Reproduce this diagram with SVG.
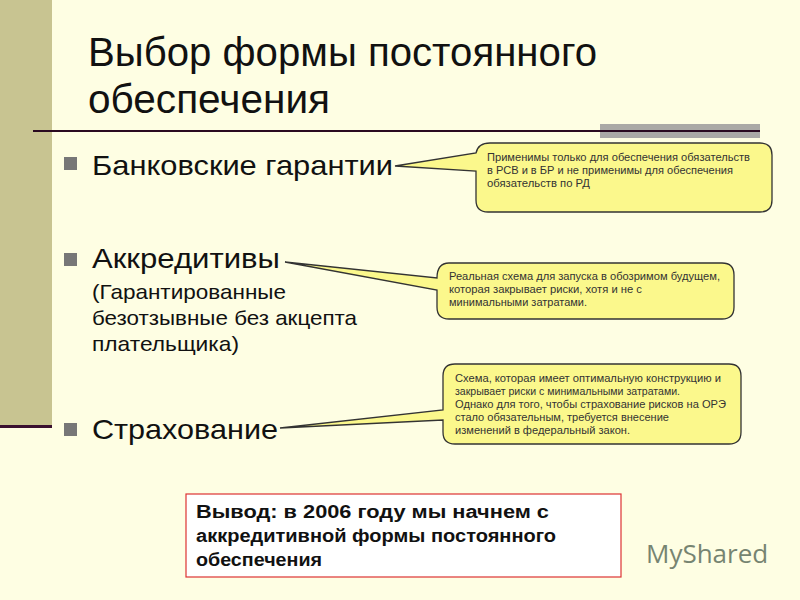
<svg xmlns="http://www.w3.org/2000/svg" width="800" height="600" viewBox="0 0 800 600">
<style>
.c{fill:#fbf88c;stroke:#333;stroke-width:1.3}
.s{font-family:"Liberation Sans",Arial,sans-serif;font-size:10.5px;fill:#333}
.b{font-family:"Liberation Sans",Arial,sans-serif;fill:#111}
</style>
<rect width="800" height="600" fill="#fefee3"/>
<rect x="0" y="0" width="52" height="425" fill="#c8c491"/>
<rect x="0" y="425" width="52" height="3" fill="#3a1030"/>
<text class="b" x="88" y="66" font-size="40" fill="#2a0a20" textLength="509" lengthAdjust="spacingAndGlyphs">Выбор формы постоянного</text>
<text class="b" x="88" y="113" font-size="40" fill="#2a0a20" textLength="242" lengthAdjust="spacingAndGlyphs">обеспечения</text>
<rect x="600" y="124" width="160" height="14" fill="#aaa9a6"/>
<rect x="33" y="130" width="727" height="2" fill="#2a0a20"/>
<g id="bullets" fill="#777">
<rect x="64" y="157" width="13" height="13"/>
<rect x="64" y="253" width="13" height="13"/>
<rect x="64" y="423" width="13" height="13"/>
</g>
<text class="b" x="92" y="175" font-size="28" textLength="301" lengthAdjust="spacingAndGlyphs">Банковские гарантии</text>
<text class="b" x="92" y="268" font-size="28" textLength="188" lengthAdjust="spacingAndGlyphs">Аккредитивы</text>
<text class="b" x="92" y="299" font-size="21" textLength="194" lengthAdjust="spacingAndGlyphs">(Гарантированные</text>
<text class="b" x="92" y="325" font-size="21" textLength="265" lengthAdjust="spacingAndGlyphs">безотзывные без акцепта</text>
<text class="b" x="92" y="351" font-size="21" textLength="147" lengthAdjust="spacingAndGlyphs">плательщика)</text>
<text class="b" x="92" y="439" font-size="28" textLength="186" lengthAdjust="spacingAndGlyphs">Страхование</text>
<g id="callout1">
<path class="c" d="M490,143 H760 Q772,143 772,155 V200 Q772,212 760,212 H488 Q476,212 476,200 V171 L395,166 L476,153 Q478,143 490,143 Z"/>
<text class="s" x="487" y="161" textLength="263" lengthAdjust="spacingAndGlyphs">Применимы только для обеспечения обязательств</text>
<text class="s" x="487" y="174" textLength="246" lengthAdjust="spacingAndGlyphs">в РСВ и в БР и не применимы для обеспечения</text>
<text class="s" x="487" y="187" textLength="103" lengthAdjust="spacingAndGlyphs">обязательств по РД</text>
</g>
<g id="callout2">
<path class="c" d="M449,263 H722 Q734,263 734,275 V307 Q734,319 722,319 H449 Q437,319 437,307 V290 L285,262 L437,278 Q437,263 449,263 Z"/>
<text class="s" x="449" y="280" textLength="271" lengthAdjust="spacingAndGlyphs">Реальная схема для запуска в обозримом будущем,</text>
<text class="s" x="449" y="293" textLength="193" lengthAdjust="spacingAndGlyphs">которая закрывает риски, хотя и не с</text>
<text class="s" x="449" y="306" textLength="138" lengthAdjust="spacingAndGlyphs">минимальными  затратами.</text>
</g>
<g id="callout3">
<path class="c" d="M455,364 H729 Q741,364 741,376 V432 Q741,444 729,444 H455 Q443,444 443,432 V420 L280,428 L443,410 V376 Q443,364 455,364 Z"/>
<text class="s" x="455" y="382" textLength="266" lengthAdjust="spacingAndGlyphs">Схема, которая имеет оптимальную конструкцию и</text>
<text class="s" x="455" y="395" textLength="225" lengthAdjust="spacingAndGlyphs">закрывает риски с минимальными  затратами.</text>
<text class="s" x="455" y="408" textLength="271" lengthAdjust="spacingAndGlyphs">Однако для того, чтобы страхование рисков на ОРЭ</text>
<text class="s" x="455" y="421" textLength="214" lengthAdjust="spacingAndGlyphs">стало обязательным, требуется внесение</text>
<text class="s" x="455" y="434" textLength="175" lengthAdjust="spacingAndGlyphs">изменений  в федеральный закон.</text>
</g>
<g id="conclusion">
<rect x="186" y="494" width="435" height="83" fill="#fff" stroke="#d33" stroke-width="1.2"/>
<text class="b" x="196" y="518" font-size="18" font-weight="bold" textLength="353" lengthAdjust="spacingAndGlyphs">Вывод: в 2006 году мы начнем с</text>
<text class="b" x="196" y="542" font-size="18" font-weight="bold" textLength="360" lengthAdjust="spacingAndGlyphs">аккредитивной формы постоянного</text>
<text class="b" x="196" y="566" font-size="18" font-weight="bold" textLength="126" lengthAdjust="spacingAndGlyphs">обеспечения</text>
</g>
<text x="646" y="563" font-family="Open Sans,sans-serif" font-size="26" fill="#556655" opacity="0.8">MyShared</text>
</svg>
